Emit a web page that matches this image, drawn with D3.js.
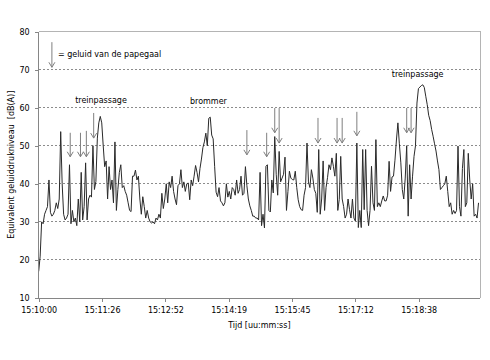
<!DOCTYPE html>
<html><head><meta charset="utf-8">
<script src="https://cdn.jsdelivr.net/npm/d3@7"></script>
<style>
body{margin:0;background:#fff}
text{font-family:"DejaVu Sans",Verdana,sans-serif}
</style>
</head><body>
<svg id="c" width="490" height="360"></svg>
<script>
// ---- data ----
const sampleStep = 2; // seconds between samples, starting 15:10:00
const levels = [
17,21,30,29.5,32,33,34,41,32.5,31.5,32,33,35,33.5,36,53.7,40,32,30.5,31,
32,45,29.5,33,30,31,29,36,30,43,30.5,34,45.5,30.5,36,37,36.5,50,38.5,40.6,
52,56,57.7,56,50,44.5,46,36,44.5,38.5,41,35,51,33,38.5,43,45,39,39.5,38,
37,35,33,32.7,42,42,43.6,41,42,36,32,36.6,34,31,33,31,30,29.7,30,29.5,
31,30.5,32,31,37.5,33.5,36,40,35,40.5,39,42,38,36,34.5,39.5,40,43.7,39,40.5,
38,40,40.2,35.8,41,39.5,42,44.8,43,40.5,44,46.5,49.5,51,53.3,50,57.2,57.5,52.8,51.8,
44.6,37.8,36.6,39,35.5,35,34.2,35,40,36.5,38,36,39,38.5,37,41,37.5,38.5,42,37,
37.5,44.5,39.5,36,34.2,33,31.5,31.5,31,31,30.5,43,29,32,28.4,44.6,45,33,32.6,41,
37.6,52.4,42.5,37,48.5,40.5,41.5,42.5,47,33,38,43.3,41.5,41.1,41,43.3,39,35.8,34,33.2,
33,37,39,50.7,40.5,39,43.7,41.5,38.5,37.5,32.5,49,32,36,46,33,39,41.6,45,43.7,
46.8,44.6,42,48,33,35.9,47.2,36,34,31,32,36,33.2,31,36,31,30.2,50.7,28.5,33,
28.5,49,33.2,49,33,29,33,44.6,35,33,51.6,34,35,34,35.5,36.8,35.5,35.5,37,45.9,
38,41.8,42,46.2,51.5,56,50.5,45.5,38.5,36,41.5,50,31.5,45,36,42,47.2,50,61.2,65,
65.4,65.8,66,65.3,63,60.8,58,56.6,54.3,52.5,50.5,48.6,46,43.7,38.5,39,39.5,40,42,38,
34,35,32,33,32.2,33,49.9,34,31.5,44,49,34,35,48,41,36,40,31.5,32,31,35
];
const tickSeconds = [0,86.4,172.8,259.2,345.6,432,518.4];
const tickLabels = ["15:10:00","15:11:26","15:12:52","15:14:19","15:15:45","15:17:12","15:18:38"];
const yTicks = [10,20,30,40,50,60,70,80];
const xEndSeconds = 602;

// parrot arrows (time in s, top and tip level in dB)
const arrowTimes   = [43,57,65,75,284,311,322,328,381,407,414,434,502,508];
const arrowTops    = [53.4,53.4,53.9,58.6,54.1,53.4,59.9,59.9,57.3,57.3,57.3,58.9,59.9,59.9];
const arrowTips    = [47.1,47.1,47.1,52.0,47.6,47.1,53.4,50.7,50.7,50.7,50.7,52.6,53.4,53.4];

const labelTexts  = ["treinpassage","brommer","treinpassage"];
const labelTimes  = [85,231.5,517];
const labelLevels = [61.3,61.0,68.0];

const legendArrow = {t:18, top:77.2, tip:70.6};
const legendText = "= geluid van de papegaal";

// ---- chart ----
const svg = d3.select("#c");
const L = 38.7, R = 480, T = 31.5, B = 298;
const x = d3.scaleLinear().domain([0, xEndSeconds]).range([L, R]);
const y = d3.scaleLinear().domain([10, 80]).range([B, T]);

svg.append("rect").attr("width",490).attr("height",360).attr("fill","#fff");

// gridlines
svg.append("g").selectAll("line").data(yTicks.filter(v=>v>10 && v<80)).join("line")
  .attr("x1",L).attr("x2",R).attr("y1",d=>y(d)).attr("y2",d=>y(d))
  .attr("stroke","#8c8c8c").attr("stroke-width",1).attr("stroke-dasharray","2,2")
  .attr("shape-rendering","crispEdges");

// plot frame (top/right)
svg.append("path").attr("d",`M${L},${T}H${R}V${B}`).attr("fill","none")
  .attr("stroke","#b4b4b4").attr("shape-rendering","crispEdges");

// data line
const line = d3.line().x((d,i)=>x(i*sampleStep)).y(d=>y(d));
svg.append("path").datum(levels).attr("d",line).attr("fill","none")
  .attr("stroke","#2a2a2a").attr("stroke-width",1).attr("stroke-linejoin","round");

// axes
const yAxis = d3.axisLeft(y).tickValues(yTicks).tickSize(4).tickPadding(5);
const gy = svg.append("g").attr("transform",`translate(${L},0)`).call(yAxis);
const xAxis = d3.axisBottom(x).tickValues(tickSeconds).tickFormat((d,i)=>tickLabels[i]).tickSize(4).tickPadding(5);
const gx = svg.append("g").attr("transform",`translate(0,${B})`).call(xAxis);
[gx,gy].forEach(g=>{
  g.select(".domain").attr("stroke","#868686").attr("shape-rendering","crispEdges");
  g.selectAll(".tick line").attr("stroke","#868686").attr("shape-rendering","crispEdges");
  g.selectAll("text").attr("font-size",8).attr("fill","#000")
   .attr("font-family",'"DejaVu Sans",Verdana,sans-serif');
});
gx.select(".domain").attr("d",`M${L},0H${R}`);
gy.select(".domain").attr("d",`M0,${T}V${B}`);

// axis titles
svg.append("text").attr("x",(L+R)/2).attr("y",328).attr("text-anchor","middle")
  .attr("font-size",8).attr("fill","#000").text("Tijd [uu:mm:ss]");
svg.append("text").attr("transform",`translate(13.5,${(T+B)/2}) rotate(-90)`)
  .attr("text-anchor","middle").attr("font-size",8).attr("fill","#000")
  .attr("xml:space","preserve").text("Equivalent geluiddrukniveau  [dB(A)]");

// arrows
function arrow(g, t, top, tip){
  const ax = x(t), y1 = y(top), y2 = y(tip);
  g.append("line").attr("x1",ax).attr("x2",ax).attr("y1",y1).attr("y2",y2)
    .attr("stroke","#7f7f7f").attr("stroke-width",1);
  g.append("path").attr("d",`M${ax-3},${y2-5}L${ax},${y2}L${ax+3},${y2-5}`)
    .attr("fill","none").attr("stroke","#7f7f7f").attr("stroke-width",1);
}
const ga = svg.append("g");
arrowTimes.forEach((t,i)=>arrow(ga,t,arrowTops[i],arrowTips[i]));
arrow(ga, legendArrow.t, legendArrow.top, legendArrow.tip);
svg.append("text").attr("x",x(legendArrow.t)+6).attr("y",y(73.4))
  .attr("font-size",8).attr("fill","#000").text(legendText);

// labels
labelTexts.forEach((s,i)=>{
  svg.append("text").attr("x",x(labelTimes[i])).attr("y",y(labelLevels[i]))
    .attr("text-anchor","middle").attr("font-size",8).attr("fill","#000").text(s);
});
</script>
</body></html>
